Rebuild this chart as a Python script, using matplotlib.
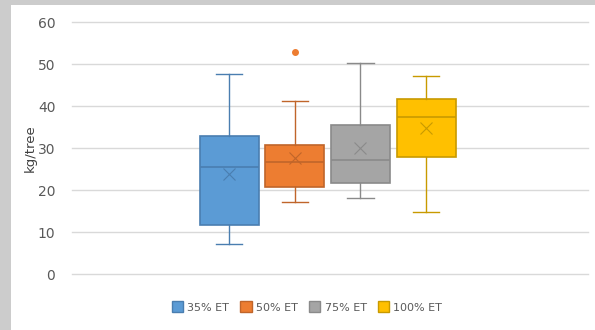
import matplotlib.pyplot as plt
from matplotlib.patches import Rectangle, Patch

# Yield per tree under each irrigation level (box summary values)
labels = ['35% ET', '50% ET', '75% ET', '100% ET']
whislo = [7.1, 17.2, 18.0, 14.8]
q1 = [11.6, 20.8, 21.6, 27.9]
med = [25.5, 26.7, 27.2, 37.5]
q3 = [32.8, 30.8, 35.4, 41.7]
whishi = [47.6, 41.1, 50.2, 47.1]
means = [23.9, 27.6, 29.9, 34.8]
outliers = [[], [52.9], [], []]

fills = ['#5b9bd5', '#ed7d31', '#a5a5a5', '#ffc000']
edges = ['#4a7eb0', '#c0652a', '#8a8a8a', '#c89a00']

stats = []
for i in range(len(labels)):
    stats.append(dict(label=labels[i], whislo=whislo[i], q1=q1[i], med=med[i],
                      q3=q3[i], whishi=whishi[i], mean=means[i], fliers=outliers[i]))

fig = plt.figure(figsize=(5.95, 3.3), dpi=100)
fig.patch.set_facecolor('#cccccc')
fig.patches.append(Rectangle((11 / 595, 0), 1, 1 - 5 / 330, transform=fig.transFigure,
                             facecolor='white', edgecolor='none', zorder=-1))

ax = fig.add_axes([72 / 595, 56 / 330, 516 / 595, 252 / 330])
ax.set_facecolor('none')

positions = [-1.5, -0.5, 0.5, 1.5]
for i, s in enumerate(stats):
    ax.bxp([s], positions=[positions[i]], widths=0.9, showmeans=True,
           patch_artist=True,
           boxprops=dict(facecolor=fills[i], edgecolor=edges[i], linewidth=1.2),
           medianprops=dict(color=edges[i], linewidth=1.2),
           whiskerprops=dict(color=edges[i], linewidth=1.0),
           capprops=dict(color=edges[i], linewidth=1.0),
           capwidths=0.4,
           meanprops=dict(marker='x', markeredgecolor=edges[i], markersize=8,
                          markeredgewidth=0.8),
           flierprops=dict(marker='o', markerfacecolor=fills[i],
                           markeredgecolor=fills[i], markersize=4))

ax.set_xlim(-3.90, 3.97)
ax.set_ylim(0, 60)
ax.set_yticks(range(0, 61, 10))
ax.set_xticks([])
ax.yaxis.grid(True, color='#d9d9d9', linewidth=1)
for gl in ax.get_ygridlines():
    gl.set_clip_on(False)
ax.set_axisbelow(True)
for sp in ax.spines.values():
    sp.set_visible(False)
ax.tick_params(axis='y', length=0, pad=12, labelsize=10, labelcolor='#595959')
ax.set_ylabel('kg/tree', fontsize=9.5, color='#404040', labelpad=1)

handles = [Patch(facecolor=fills[i], edgecolor=edges[i], label=labels[i]) for i in range(4)]
fig.legend(handles=handles, loc='center', bbox_to_anchor=(307 / 595, 1 - 307 / 330),
           ncol=4, frameon=False, fontsize=8, labelcolor='#595959',
           handlelength=1.0, handleheight=1.1, handletextpad=0.4, columnspacing=1.0)

fig.savefig('out.png', dpi=100, facecolor=fig.get_facecolor())
